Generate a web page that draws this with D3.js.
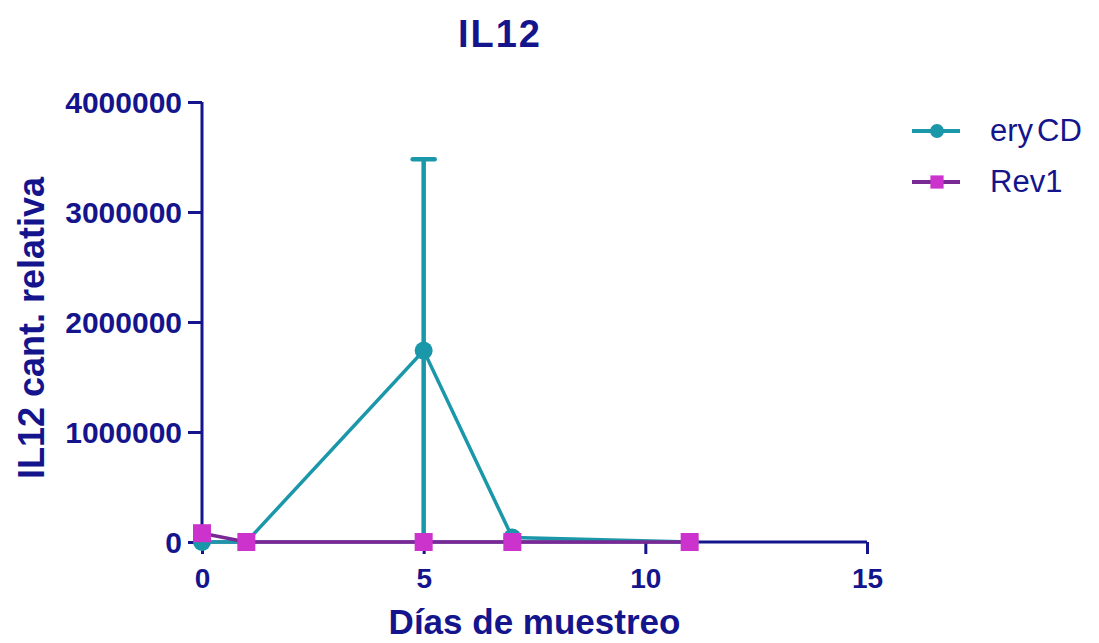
<!DOCTYPE html>
<html>
<head>
<meta charset="utf-8">
<script src="https://cdn.jsdelivr.net/npm/d3@7"></script>
<style>
  html, body { margin: 0; padding: 0; background: #ffffff; }
  svg { display: block; }
</style>
</head>
<body>
<svg id="chart" width="1099" height="643"></svg>
<script>
// Sampling days
const days = [0, 1, 5, 7, 11];
// IL12 relative quantity per group
const eryCD = [0, 0, 1740000, 40000, 0];
const eryCDErr = [0, 0, 1740000, 0, 0];
const rev1 = [80000, 0, 0, 0, 0];
const rev1Err = [0, 0, 0, 0, 0];
const xTicks = [0, 5, 10, 15];
const yTicks = [0, 1000000, 2000000, 3000000, 4000000];
const seriesNames = ["eryCD", "Rev1"];

const navy = "#14148c";
const teal = "#1a97a8";
const magenta = "#cc33cc";
const purple = "#7a2894";

const svg = d3.select("#chart");
const x = d3.scaleLinear().domain([0, 15]).range([202, 867]);
const y = d3.scaleLinear().domain([0, 4000000]).range([542, 102]);

const font = "'Liberation Sans', Arial, sans-serif";

// Title
svg.append("text")
  .attr("x", 500).attr("y", 47)
  .attr("text-anchor", "middle")
  .attr("font-family", font).attr("font-weight", "bold")
  .attr("font-size", 38).attr("letter-spacing", 2).attr("fill", navy)
  .text("IL12");

// Y axis
const yAxis = svg.append("g")
  .attr("transform", `translate(${x(0)},0)`)
  .call(d3.axisLeft(y).tickValues(yTicks).tickFormat(d3.format("d")).tickSize(14).tickPadding(6));
// X axis
const xAxis = svg.append("g")
  .attr("transform", `translate(0,${y(0)})`)
  .call(d3.axisBottom(x).tickValues(xTicks).tickSize(12).tickPadding(8));

[yAxis, xAxis].forEach(g => {
  g.selectAll(".tick line").attr("stroke", navy).attr("stroke-width", 3);
  g.selectAll(".tick text")
    .attr("fill", navy).attr("font-family", font)
    .attr("font-weight", "bold");
});
yAxis.select(".domain").attr("stroke", navy).attr("stroke-width", 3)
  .attr("d", `M0,${y(0)}V${y(4000000)}`);
xAxis.select(".domain").attr("stroke", navy).attr("stroke-width", 3)
  .attr("d", `M${x(0)},0H${x(15)}`);
yAxis.selectAll(".tick text").attr("font-size", 30).attr("x", -20).attr("dy", "0.36em");
xAxis.selectAll(".tick text").attr("font-size", 28).attr("y", 46).attr("dy", 0);

// Axis titles
svg.append("text")
  .attr("transform", `translate(44,${y(2000000) + 6}) rotate(-90)`)
  .attr("text-anchor", "middle")
  .attr("font-family", font).attr("font-weight", "bold")
  .attr("font-size", 36).attr("fill", navy)
  .text("IL12 cant. relativa");
svg.append("text")
  .attr("x", x(7.5)).attr("y", 634)
  .attr("text-anchor", "middle")
  .attr("font-family", font).attr("font-weight", "bold")
  .attr("font-size", 35).attr("fill", navy)
  .text("Días de muestreo");

const plot = svg.append("g");
const line = d3.line().x(d => x(d[0])).y(d => y(d[1]));

function drawSeries(vals, errs, lineColor, markColor, shape, size) {
  const pts = days.map((d, i) => [d, vals[i], errs[i]]);
  // error bars (lower limit clipped at the x axis)
  pts.filter(p => p[2] > 0).forEach(p => {
    const top = y(p[1] + p[2]);
    const bot = y(Math.max(0, p[1] - p[2]));
    plot.append("line")
      .attr("x1", x(p[0])).attr("x2", x(p[0]))
      .attr("y1", top).attr("y2", bot)
      .attr("stroke", lineColor).attr("stroke-width", 4.5);
    plot.append("line")
      .attr("x1", x(p[0]) - 11).attr("x2", x(p[0]) + 11)
      .attr("y1", top).attr("y2", top)
      .attr("stroke", lineColor).attr("stroke-width", 4.5)
      .attr("stroke-linecap", "round");
  });
  plot.append("path").datum(pts)
    .attr("d", line).attr("fill", "none")
    .attr("stroke", lineColor).attr("stroke-width", 3.5);
  const sym = d3.symbol().type(shape).size(size);
  plot.selectAll(null).data(pts).enter().append("path")
    .attr("transform", p => `translate(${x(p[0])},${y(p[1])})`)
    .attr("d", sym).attr("fill", markColor);
}

drawSeries(eryCD, eryCDErr, teal, teal, d3.symbolCircle, 254);
drawSeries(rev1, rev1Err, purple, magenta, d3.symbolSquare, 324);

// Legend
const legend = svg.append("g");
const legendItems = [
  { name: seriesNames[0], line: teal, mark: teal, shape: d3.symbolCircle, size: 150 },
  { name: seriesNames[1], line: purple, mark: magenta, shape: d3.symbolSquare, size: 175 }
];
legendItems.forEach((it, i) => {
  const ly = 131 + i * 51;
  legend.append("line")
    .attr("x1", 912).attr("x2", 960).attr("y1", ly).attr("y2", ly)
    .attr("stroke", it.line).attr("stroke-width", 4);
  legend.append("path")
    .attr("transform", `translate(937,${ly})`)
    .attr("d", d3.symbol().type(it.shape).size(it.size)())
    .attr("fill", it.mark);
  const t = legend.append("text")
    .attr("x", 990).attr("y", ly + 10)
    .attr("font-family", font).attr("font-size", 31)
    .attr("fill", navy);
  if (it.name === "eryCD") {
    t.append("tspan").text("ery");
    t.append("tspan").attr("dx", 4).text("CD");
  } else {
    t.text(it.name);
  }
});
</script>
</body>
</html>
